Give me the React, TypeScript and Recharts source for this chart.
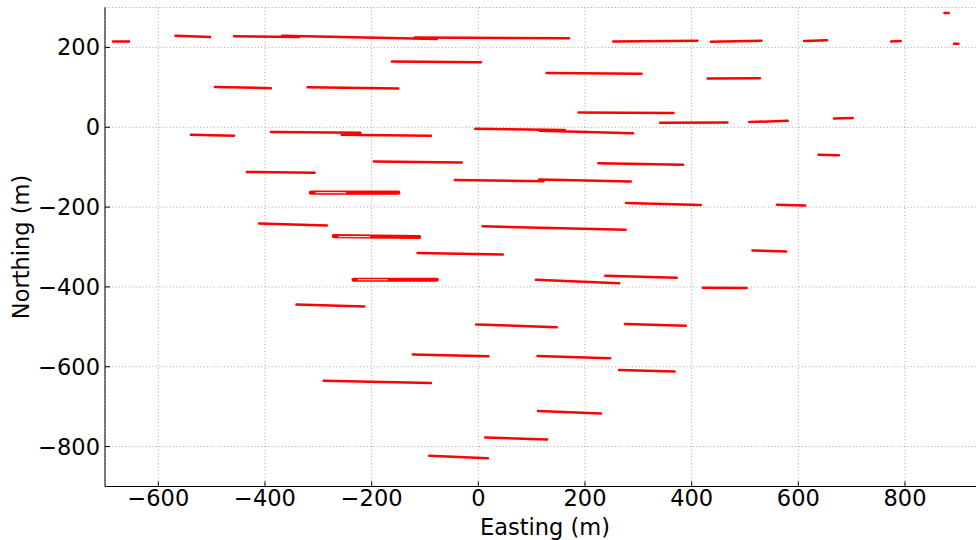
import React from "react";
import { LineChart, Line, XAxis, YAxis, CartesianGrid, Label } from "recharts";

// Each feature is a short, nearly east-west trace: start and end in metres.
const startEasting = [
  -685, -568, -458, -368, -119, -162, -494, -320, -539, -389, -256, 128, 253, 188, 341, -6, 115,
  436, 611, 774, 874, 892, 430, 508, 667, -196, -434, -314, -411, -271, -114, 225, -44, 114, 277,
  8, 638, 560, 514, -234, -341, -123, -290, 108, 238, 421, -4, 275, 111, 264, 112, 13, -92,
];
const startNorthing = [
  215, 229, 228, 229, 225, 165, 101, 100, -19, -12, -19, 136, 215, 37, 11, -4, -9,
  214, 216, 215, 286, 209, 122, 13, 22, -86, -112, -164, -241, -273, -315, -90, -132, -131, -190,
  -248, -69, -194, -309, -382, -444, -569, -635, -382, -372, -402, -494, -493, -573, -608, -711, -777, -823,
];
const endEasting = [
  -655, -503, -336, -78, 170, 5, -389, -150, -458, -221, -89, 306, 411, 366, 467, 162, 290,
  531, 654, 792, 882, 900, 528, 580, 702, -31, -307, -150, -284, -111, 46, 384, 122, 286, 417,
  276, 676, 613, 577, -78, -214, 19, -89, 264, 372, 503, 147, 389, 247, 368, 230, 129, 18,
];
const endNorthing = [
  215, 226, 226, 221, 223, 163, 98, 97, -21, -14, -21, 134, 217, 36, 12, -7, -15,
  217, 218, 216, 286, 209, 123, 16, 23, -88, -114, -164, -246, -275, -319, -94, -135, -136, -195,
  -257, -70, -196, -311, -382, -449, -574, -641, -391, -377, -403, -501, -497, -579, -612, -717, -782, -829,
];

// hollow interiors visible inside the three widest ellipses
const hollowStartEasting = [-305, -262, -226];
const hollowEndEasting = [-248, -203, -170];
const hollowNorthing = [-164, -274, -382];

const xTicks = [-600, -400, -200, 0, 200, 400, 600, 800];
const yTicks = [-800, -600, -400, -200, 0, 200];

// styling only: indices of the traces drawn as wider (open) ellipses
const wideTraces = [27, 29, 39];

const fmt = (v: number) => (v < 0 ? `\u2212${Math.abs(v)}` : `${v}`);
const FONT = "'DejaVu Sans', sans-serif";

export default function App() {
  const segments = startEasting.map((x, i) => [
    { x, y: startNorthing[i] },
    { x: endEasting[i], y: endNorthing[i] },
  ]);
  const hollows = hollowStartEasting.map((x, i) => [
    { x, y: hollowNorthing[i] },
    { x: hollowEndEasting[i], y: hollowNorthing[i] },
  ]);
  return (
    <div
      style={{
        position: "absolute",
        left: 0,
        top: 0,
        width: 976,
        height: 540,
        overflow: "hidden",
        background: "#fff",
        fontFamily: FONT,
      }}
    >
      <LineChart width={985} height={540} margin={{ top: 7.5, right: 0, bottom: 0, left: 0 }}>
        <CartesianGrid stroke="#8a8a8a" strokeWidth={0.8} strokeDasharray="1 2.4" />
        <XAxis
          dataKey="x"
          type="number"
          domain={[-700, 950]}
          ticks={xTicks}
          allowDataOverflow
          height={53.5}
          tickSize={-5}
          tickMargin={9}
          tickFormatter={fmt}
          tick={{ fontSize: 22.5, fill: "#000", fontFamily: FONT }}
          axisLine={{ stroke: "#000", strokeWidth: 1 }}
          tickLine={{ stroke: "#000", strokeWidth: 1 }}
        >
          <Label value="Easting (m)" position="insideBottom" offset={5} fontSize={22.5} fill="#000" fontFamily={FONT} />
        </XAxis>
        <XAxis
          xAxisId="top"
          dataKey="x"
          type="number"
          orientation="top"
          domain={[-700, 950]}
          ticks={xTicks}
          allowDataOverflow
          height={0}
          tickSize={-5}
          tick={false}
          axisLine={{ stroke: "#000", strokeWidth: 1 }}
          tickLine={{ stroke: "#000", strokeWidth: 1 }}
        />
        <YAxis
          type="number"
          domain={[-900, 300]}
          ticks={yTicks}
          allowDataOverflow
          width={105}
          tickSize={-5}
          tickMargin={10}
          tickFormatter={fmt}
          tick={{ fontSize: 22.5, fill: "#000", fontFamily: FONT }}
          axisLine={{ stroke: "#000", strokeWidth: 1 }}
          tickLine={{ stroke: "#000", strokeWidth: 1 }}
        >
          <Label
            value="Northing (m)"
            angle={-90}
            position="insideLeft"
            offset={21}
            fontSize={22.5}
            fill="#000"
            fontFamily={FONT}
            style={{ textAnchor: "middle" }}
          />
        </YAxis>
        {segments.map((d, i) => (
          <Line
            key={`s${i}`}
            data={d}
            dataKey="y"
            stroke="#ff0000"
            strokeWidth={wideTraces.includes(i) ? 4.2 : 2.5}
            strokeLinecap="round"
            dot={false}
            activeDot={false}
            legendType="none"
            isAnimationActive={false}
          />
        ))}
        {hollows.map((d, i) => (
          <Line
            key={`h${i}`}
            data={d}
            dataKey="y"
            stroke="#ffffff"
            strokeWidth={1}
            dot={false}
            activeDot={false}
            legendType="none"
            isAnimationActive={false}
          />
        ))}
      </LineChart>
    </div>
  );
}
